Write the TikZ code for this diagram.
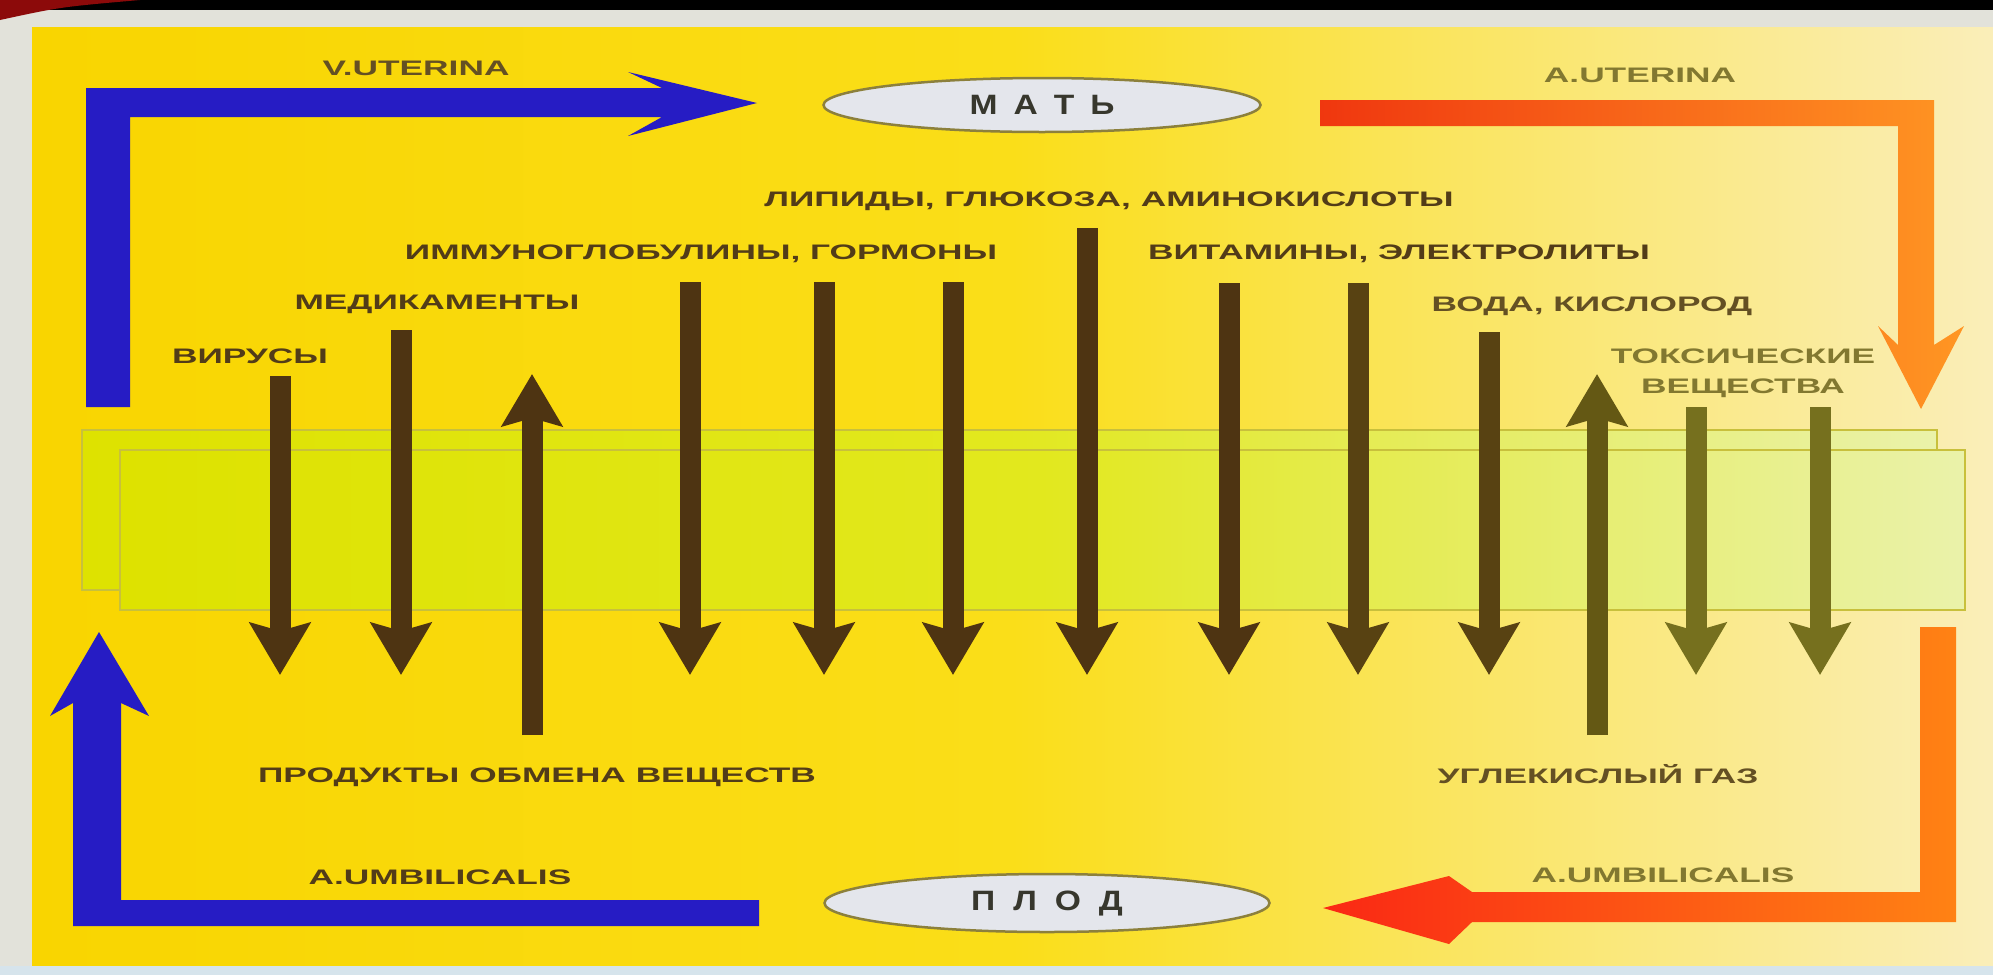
\documentclass[tikz,border=0pt]{standalone}
\usepackage{fontspec}
\newfontfamily\lab{Liberation Sans}[FakeStretch=1.68]
\newfontfamily\ellf{Liberation Sans}[FakeStretch=1.2]
\usetikzlibrary{arrows.meta,shapes.geometric}
\definecolor{margin}{RGB}{226,226,218}
\definecolor{bottomstrip}{RGB}{214,228,236}
\definecolor{ybg}{RGB}{249,213,0}
\definecolor{ymid}{RGB}{250,222,25}
\definecolor{ypale}{RGB}{250,238,185}
\definecolor{memL}{RGB}{222,226,0}
\definecolor{memM}{RGB}{226,232,30}
\definecolor{memR}{RGB}{234,242,170}
\definecolor{memline}{RGB}{200,192,60}
\definecolor{blueA}{RGB}{38,28,196}
\definecolor{redA}{RGB}{240,55,15}
\definecolor{orgA}{RGB}{255,150,35}
\definecolor{redB}{RGB}{250,40,20}
\definecolor{orgB}{RGB}{255,130,20}
\definecolor{brownA}{RGB}{78,52,18}
\definecolor{brownB}{RGB}{88,66,18}
\definecolor{oliveA}{RGB}{100,88,20}
\definecolor{oliveB}{RGB}{118,112,30}
\definecolor{txtL}{RGB}{82,60,24}
\definecolor{txtM}{RGB}{100,80,35}
\definecolor{txtR}{RGB}{130,120,48}
\definecolor{ellfill}{RGB}{228,230,236}
\definecolor{elldraw}{RGB}{140,128,60}
\definecolor{elltext}{RGB}{55,55,45}
\definecolor{darkred}{RGB}{140,10,10}
\begin{document}
\begin{tikzpicture}[x=1pt,y=-1pt,
  lbl/.style={font=\lab\bfseries\fontsize{21}{30}\selectfont, inner sep=0pt, text=txtL, align=center},
  lblM/.style={lbl, text=txtM},
  lblR/.style={lbl, text=txtR},
  ovalbox/.style={ellipse, draw=elldraw, line width=2.5pt, fill=ellfill, inner sep=0pt,
    font=\ellf\bfseries\fontsize{28}{30}\selectfont, text=elltext},
  barrow/.style={line width=21pt, -{Stealth[length=52pt,width=60pt,inset=8pt]}, draw=brownA},
]
\useasboundingbox (0,0) rectangle (1993,975);
% page background
\fill[margin] (0,0) rectangle (1993,975);
\fill[black] (0,0) rectangle (1993,10);
\fill[darkred] (0,0) -- (140,0) .. controls (60,7) .. (0,20) -- cycle;
% yellow panel
\shade[left color=ybg, right color=ypale, middle color=ymid] (32,27) rectangle (1993,966);
\fill[bottomstrip] (0,966) rectangle (1993,975);
% membrane
\shade[left color=memL, right color=memR, middle color=memM, draw=memline, line width=1.2pt] (82,430) rectangle (1937,590);
\shade[left color=memL, right color=memR, middle color=memM, draw=memline, line width=1.2pt] (120,450) rectangle (1965,610);

% big vessel arrows
\fill[blueA] (86,407) -- (86,88) -- (662,88) -- (628,72) -- (757,103) -- (628,136) -- (662,117) -- (130,117) -- (130,407) -- cycle;
\fill[blueA] (759,900) -- (759,926) -- (73,926) -- (73,703) -- (50,716) -- (99,632) -- (149,716) -- (121,703) -- (121,900) -- cycle;
\shade[left color=redA, right color=orgA] (1320,100) -- (1934,100) -- (1934,345) -- (1964,326) -- (1921,409) -- (1878,326) -- (1898,345) -- (1898,126) -- (1320,126) -- cycle;
\shade[left color=redB, right color=orgB] (1920,627) -- (1956,627) -- (1956,922) -- (1472,922) -- (1449,944) -- (1323,908) -- (1449,876) -- (1472,892) -- (1920,892) -- cycle;

% mother / fetus
\node[ovalbox, minimum width=437pt, minimum height=54pt] (mat) at (1042,105) {М\hspace{16pt}А\hspace{16pt}Т\hspace{16pt}Ь};
\node[ovalbox, minimum width=445pt, minimum height=58pt] (plod) at (1047,903) {П\hspace{18pt}Л\hspace{18pt}О\hspace{18pt}Д};

% vessel labels
\node[lblM] (vut) at (416,68) {V.UTERINA};
\node[lblR] (aut) at (1640,75) {A.UTERINA};
\node[lbl] (aumbL) at (440,877) {A.UMBILICALIS};
\node[lblR] (aumbR) at (1663,875) {A.UMBILICALIS};

% substance labels
\node[lbl] (lip) at (1109,201) {ЛИПИДЫ, ГЛЮКОЗА, АМИНОКИСЛОТЫ};
\node[lbl] (imm) at (701,254) {ИММУНОГЛОБУЛИНЫ, ГОРМОНЫ};
\node[lbl] (vit) at (1399,254) {ВИТАМИНЫ, ЭЛЕКТРОЛИТЫ};
\node[lbl] (med) at (437,304) {МЕДИКАМЕНТЫ};
\node[lbl] (vir) at (250,356) {ВИРУСЫ};
\node[lblM] (voda) at (1592,306) {ВОДА, КИСЛОРОД};
\node[lblR] (tox) at (1743,373) {ТОКСИЧЕСКИЕ\\ВЕЩЕСТВА};
\node[lbl] (prod) at (537,777) {ПРОДУКТЫ ОБМЕНА ВЕЩЕСТВ};
\node[lblM] (co2) at (1598,774) {УГЛЕКИСЛЫЙ ГАЗ};

% arrow end points
\coordinate (virS) at (280,376);  \coordinate (virE) at (280,675);
\coordinate (medS) at (401,330);  \coordinate (medE) at (401,675);
\coordinate (prodS) at (532,735); \coordinate (prodE) at (532,374);
\coordinate (imm1S) at (690,282); \coordinate (imm1E) at (690,675);
\coordinate (imm2S) at (824,282); \coordinate (imm2E) at (824,675);
\coordinate (imm3S) at (953,282); \coordinate (imm3E) at (953,675);
\coordinate (lipS) at (1087,228); \coordinate (lipE) at (1087,675);
\coordinate (vit1S) at (1229,283); \coordinate (vit1E) at (1229,675);
\coordinate (vit2S) at (1358,283); \coordinate (vit2E) at (1358,675);
\coordinate (vodaS) at (1489,332); \coordinate (vodaE) at (1489,675);
\coordinate (co2S) at (1597,735); \coordinate (co2E) at (1597,374);
\coordinate (tox1S) at (1696,407); \coordinate (tox1E) at (1696,675);
\coordinate (tox2S) at (1820,407); \coordinate (tox2E) at (1820,675);

\draw[barrow] (virS) -- (virE);
\draw[barrow] (medS) -- (medE);
\draw[barrow] (prodS) -- (prodE);
\draw[barrow] (imm1S) -- (imm1E);
\draw[barrow] (imm2S) -- (imm2E);
\draw[barrow] (imm3S) -- (imm3E);
\draw[barrow] (lipS) -- (lipE);
\draw[barrow] (vit1S) -- (vit1E);
\draw[barrow, draw=brownB] (vit2S) -- (vit2E);
\draw[barrow, draw=brownB] (vodaS) -- (vodaE);
\draw[barrow, draw=oliveA] (co2S) -- (co2E);
\draw[barrow, draw=oliveB] (tox1S) -- (tox1E);
\draw[barrow, draw=oliveB] (tox2S) -- (tox2E);
\end{tikzpicture}
\end{document}
